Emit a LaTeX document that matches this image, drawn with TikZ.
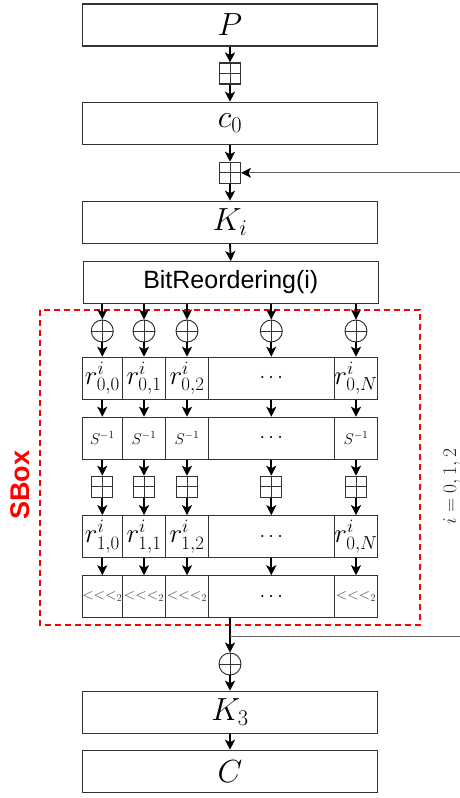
\RequirePackage{fix-cm}
\documentclass[tikz,border=0pt]{standalone}
\usepackage{fontspec}
\setsansfont{Liberation Sans}
\usetikzlibrary{arrows.meta}
\tikzset{
  bigbox/.style={draw=black!80, line width=1.2pt, minimum width=295.4pt, minimum height=42pt, inner sep=0pt, font=\fontsize{32}{34}\selectfont},
  cell/.style={draw=black!80, line width=1.1pt, minimum height=42pt, inner sep=0pt},
  arr/.style={-{Stealth[length=10pt,width=10pt,inset=2.5pt]}, line width=1.8pt, black},
  fb/.style={-{Stealth[length=10pt,width=10pt,inset=2.5pt,color=black]}, line width=1.1pt, black!60},
  crossed/.style={path picture={\draw[line width=1pt,black!80] (path picture bounding box.north) -- (path picture bounding box.south) (path picture bounding box.west) -- (path picture bounding box.east);}},
  pbox/.style={draw=black!80, line width=1.1pt, minimum size=21pt, inner sep=0pt, crossed},
  xorc/.style={circle, draw=black!85, line width=0.9pt, minimum size=22pt, inner sep=0pt, crossed},
  rfont/.style={font=\fontsize{27}{29}\selectfont},
  sfont/.style={font=\fontsize{15.5}{17}\selectfont},
  lfont/.style={font=\fontsize{15}{17}\selectfont, text=black!75},
  dfont/.style={font=\fontsize{20}{22}\selectfont},
}
\begin{document}
\begin{tikzpicture}[x=1pt,y=-1pt]
\useasboundingbox (0,0) rectangle (459,798);

% main chain
\node[bigbox] (P) at (230,25) {$P$};
\node[pbox] (pb1) at (230,73.5) {};
\node[bigbox] (c0) at (230,123.3) {$c_0$};
\node[pbox] (pb2) at (230,172.8) {};
\node[bigbox] (Ki) at (230,222.3) {$K_i$};
\node[bigbox, minimum width=295pt, minimum height=41.6pt, font=\sffamily\fontsize{25}{27}\selectfont] (BR) at (230.8,282.5) {BitReordering(i)};

\draw[arr] (P.south) -- (pb1.north);
\draw[arr] (pb1.south) -- (c0.north);
\draw[arr] (c0.south) -- (pb2.north);
\draw[arr] (pb2.south) -- (Ki.north);
\draw[arr] (Ki.south) -- (BR.north);

% SBox region
\draw[red, line width=1.7pt, dash pattern=on 6pt off 4pt] (40,310) rectangle (420,625);
\node[red, rotate=90, font=\sffamily\bfseries\fontsize{27}{30}\selectfont] (sboxlabel) at (20,485) {SBox};
\node[rotate=90, text=black!85, font=\fontsize{19.5}{21}\selectfont] (ilabel) at (451.7,486.7) {$i=0,1,2$};

% columns
\foreach \i/\x in {1/102.3, 2/144, 3/187, 4/271.3, 5/356} {
  \node[xorc] (xa\i) at (\x,331) {};
  \node[pbox] (pa\i) at (\x,486.8) {};
}

\node[cell, minimum width=40pt, rfont] (ra1) at (102.3,378.3) {$r^{i}_{0,0}$};
\node[cell, minimum width=43.4pt, rfont] (ra2) at (144,378.3) {$r^{i}_{0,1}$};
\node[cell, minimum width=42.6pt, rfont] (ra3) at (187,378.3) {$r^{i}_{0,2}$};
\node[cell, minimum width=126pt, dfont] (ra4) at (271.3,378.3) {$\cdots$};
\node[cell, minimum width=43.4pt, rfont] (ra5) at (356,378.3) {$r^{i}_{0,N}$};

\node[cell, minimum width=40pt, sfont] (sa1) at (102.3,438.3) {$S^{-1}$};
\node[cell, minimum width=43.4pt, sfont] (sa2) at (144,438.3) {$S^{-1}$};
\node[cell, minimum width=42.6pt, sfont] (sa3) at (187,438.3) {$S^{-1}$};
\node[cell, minimum width=126pt, dfont] (sa4) at (271.3,438.3) {$\cdots$};
\node[cell, minimum width=43.4pt, sfont] (sa5) at (356,438.3) {$S^{-1}$};

\node[cell, minimum width=40pt, rfont] (rb1) at (102.3,536.7) {$r^{i}_{1,0}$};
\node[cell, minimum width=43.4pt, rfont] (rb2) at (144,536.7) {$r^{i}_{1,1}$};
\node[cell, minimum width=42.6pt, rfont] (rb3) at (187,536.7) {$r^{i}_{1,2}$};
\node[cell, minimum width=126pt, dfont] (rb4) at (271.3,536.7) {$\cdots$};
\node[cell, minimum width=43.4pt, rfont] (rb5) at (356,536.7) {$r^{i}_{0,N}$};

\node[cell, minimum width=40pt, lfont] (la1) at (102.3,596.8) {$<<<_2$};
\node[cell, minimum width=43.4pt, lfont] (la2) at (144,596.8) {$<<<_2$};
\node[cell, minimum width=42.6pt, lfont] (la3) at (187,596.8) {$<<<_2$};
\node[cell, minimum width=126pt, dfont] (la4) at (271.3,596.8) {$\cdots$};
\node[cell, minimum width=43.4pt, lfont] (la5) at (356,596.8) {$<<<_2$};

\foreach \i in {1,...,5} {
  \draw[arr] (BR.south -| xa\i) -- (xa\i.north);
  \draw[arr] (xa\i.south) -- (ra\i.north);
  \draw[arr] (ra\i.south) -- (sa\i.north);
  \draw[arr] (sa\i.south) -- (pa\i.north);
  \draw[arr] (pa\i.south) -- (rb\i.north);
  \draw[arr] (rb\i.south) -- (la\i.north);
}

% output part
\node[xorc] (xo) at (230,664) {};
\node[bigbox] (K3) at (230,712.3) {$K_3$};
\node[bigbox] (C) at (230,771.3) {$C$};

\coordinate (lo) at (230,618);
\coordinate (br) at (230,636.7);
\coordinate (fbR) at (461,636.7);
\coordinate (fbT) at (461,172.8);

\draw[arr] (lo) -- (xo.north);
\draw[arr] (xo.south) -- (K3.north);
\draw[arr] (K3.south) -- (C.north);
\draw[fb] (br) -- (fbR) -- (fbT) -- (pb2.east);
\end{tikzpicture}
\end{document}
